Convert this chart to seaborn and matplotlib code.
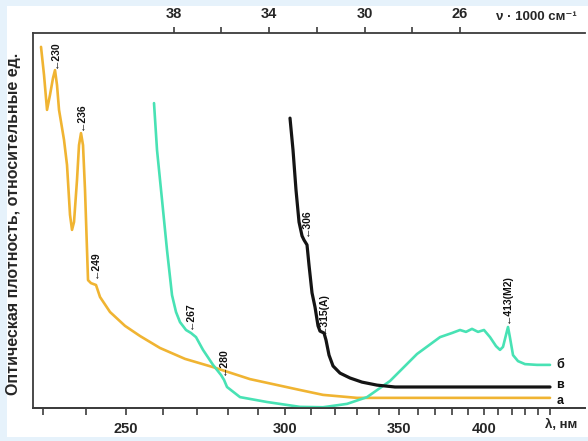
import seaborn as sns
import matplotlib.pyplot as plt
import pandas as pd
import numpy as np
from matplotlib.patches import Rectangle

sns.set_theme(style="white")
plt.rcParams["font.family"] = ["Liberation Sans", "DejaVu Sans"]
plt.rcParams["font.weight"] = "bold"

# волновое число (1000 см-1) и оптическая плотность (отн. ед.)
a_nu = [43.564, 43.438, 43.312, 43.187, 43.061, 42.977, 42.893, 42.809, 42.725,
        42.600, 42.474, 42.348, 42.264, 42.180, 42.055, 41.971, 41.887, 41.803,
        41.719, 41.635, 41.593, 41.468, 41.258, 41.090, 40.671, 40.042, 39.413,
        38.574, 37.526, 36.352, 34.801, 32.704, 31.740, 30.314, 28.510, 22.222]
a_od = [0.963, 0.888, 0.795, 0.835, 0.880, 0.901, 0.861, 0.795, 0.763,
        0.715, 0.648, 0.515, 0.475, 0.496, 0.608, 0.701, 0.733, 0.701,
        0.581, 0.421, 0.341, 0.333, 0.328, 0.296, 0.256, 0.219, 0.192,
        0.160, 0.131, 0.109, 0.077, 0.048, 0.035, 0.027, 0.027, 0.027]

b_nu = [38.826, 38.700, 38.490, 38.281, 38.071, 37.904, 37.736, 37.484, 37.275,
        37.065, 36.772, 36.352, 36.017, 35.891, 35.765, 35.220, 34.088, 32.704,
        31.740, 30.733, 29.895, 28.931, 27.799, 26.834, 26.331, 25.996, 25.744,
        25.493, 25.241, 24.990, 24.738, 24.486, 24.319, 24.193, 24.067, 23.983,
        23.899, 23.773, 23.564, 23.270, 22.767, 22.222]
b_od = [0.813, 0.688, 0.555, 0.421, 0.301, 0.256, 0.229, 0.208, 0.200,
        0.189, 0.155, 0.115, 0.088, 0.075, 0.056, 0.029, 0.016, 0.003,
        0.002, 0.011, 0.029, 0.072, 0.144, 0.189, 0.200, 0.208, 0.203,
        0.211, 0.203, 0.208, 0.189, 0.165, 0.155, 0.163, 0.195, 0.216,
        0.187, 0.141, 0.125, 0.117, 0.115, 0.115]

v_nu = [33.124, 32.998, 32.872, 32.746, 32.620, 32.537, 32.411, 32.327, 32.201,
        32.075, 31.949, 31.866, 31.698, 31.614, 31.488, 31.320, 31.027, 30.608,
        30.105, 29.476, 28.721, 22.222]
v_od = [0.773, 0.688, 0.581, 0.496, 0.459, 0.448, 0.435, 0.381, 0.307,
        0.269, 0.219, 0.205, 0.200, 0.181, 0.141, 0.112, 0.093, 0.080,
        0.069, 0.061, 0.056, 0.056]

peak_text = ["230", "236", "249", "267", "280", "306", "315(A)", "413(M2)"]
peak_nu = [42.977, 41.887, 41.300, 37.316, 35.933, 32.453, 31.740, 24.025]
peak_od = [0.907, 0.741, 0.347, 0.210, 0.088, 0.459, 0.197, 0.227]

curve_names = ["а", "б", "в"]
curve_colors = ["#f0b432", "#48e2b4", "#141414"]
curve_label_od = [0.020, 0.115, 0.062]

top_major = [38, 34, 30, 26]
top_minor = [36, 32, 28]
nm_major = [250, 300, 350, 400]
nm_minor = list(range(230, 451, 10))

df = pd.concat([
    pd.DataFrame({"nu": a_nu, "od": a_od, "curve": "а"}),
    pd.DataFrame({"nu": b_nu, "od": b_od, "curve": "б"}),
    pd.DataFrame({"nu": v_nu, "od": v_od, "curve": "в"}),
])

fig = plt.figure(figsize=(5.88, 4.41), dpi=100, facecolor="#e6f2fb")
fig.patches.append(Rectangle((7 / 588, 4 / 441), 581 / 588, 431 / 441,
                             transform=fig.transFigure, facecolor="white",
                             edgecolor="none", zorder=-1))
ax = fig.add_axes([33 / 588, 33 / 441, 552 / 588, 375 / 441])
ax.set_facecolor("white")

for name, col in zip(curve_names, curve_colors):
    sub = df[df["curve"] == name]
    sns.lineplot(data=sub, x="nu", y="od", color=col, sort=False, estimator=None,
                 linewidth=2.3 if name == "в" else 1.9, ax=ax)

ax.set_xlim(43.90, 20.755)
ax.set_ylim(0, 1)
ax.set_yticks([])
ax.set_xlabel("")
ax.set_ylabel("Оптическая плотность, относительные ед.", fontsize=11.5,
              fontweight="bold")
ax.yaxis.set_label_coords(-0.022, 0.49)

for s in ["top", "left", "bottom"]:
    ax.spines[s].set_color("#3c3c3c")
    ax.spines[s].set_linewidth(1.3)
ax.spines["right"].set_visible(False)

# верхняя шкала - волновые числа
ax.xaxis.tick_top()
ax.set_xticks(top_major)
ax.set_xticks(top_minor, minor=True)
ax.tick_params(axis="x", which="both", top=True, bottom=False, direction="out",
               length=4, width=1.2, color="#3c3c3c", pad=5, labelsize=10.5)


def inv(x):
    x = np.asarray(x, dtype=float)
    with np.errstate(divide="ignore", invalid="ignore"):
        return 1e4 / x


# нижняя шкала - длины волн
sec = ax.secondary_xaxis("bottom", functions=(inv, inv))
sec.set_xticks(nm_major)
sec.set_xticks(nm_minor, minor=True)
sec.tick_params(axis="x", which="both", direction="out", length=5, width=1.2,
                color="#3c3c3c", pad=5, labelsize=10.5)
sec.spines["bottom"].set_color("#3c3c3c")
sec.spines["bottom"].set_linewidth(1.3)
for lab in sec.get_xticklabels():
    lab.set_fontweight("bold")
for lab in ax.get_xticklabels():
    lab.set_fontweight("bold")

for t, x, y in zip(peak_text, peak_nu, peak_od):
    ax.text(x, y, "←" + t, rotation=90, ha="center", va="bottom", fontsize=7.5,
            fontweight="bold", color="#111111")

for name, y in zip(curve_names, curve_label_od):
    ax.text(21.80, y, name, ha="center", va="center", fontsize=9,
            fontweight="bold", color="#111111")

fig.text(536 / 588, 1 - 17 / 441, "ν · 1000 см⁻¹", ha="center", va="center",
         fontsize=9.5, fontweight="bold")
fig.text(561 / 588, 1 - 425 / 441, "λ, нм", ha="center", va="center",
         fontsize=9.5, fontweight="bold")

fig.savefig("out.png", dpi=100, facecolor=fig.get_facecolor())
